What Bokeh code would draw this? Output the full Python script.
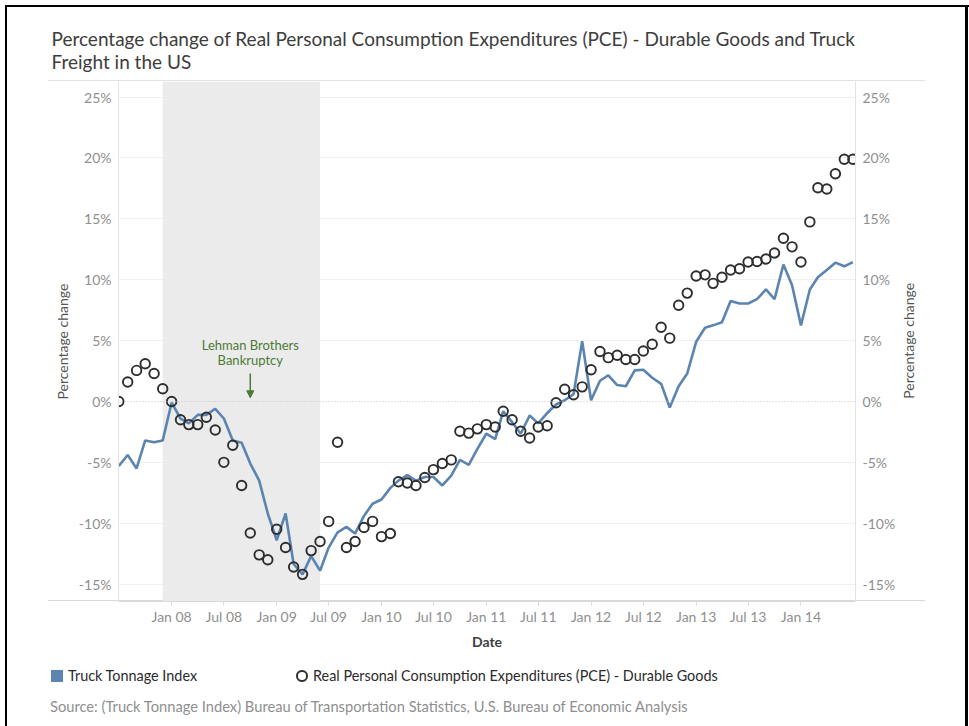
import math
import pandas as pd
from bokeh.plotting import figure
from bokeh.layouts import column
from bokeh.models import (Range1d, LinearAxis, FixedTicker, DatetimeTickFormatter,
                          PrintfTickFormatter, BoxAnnotation, Span, Label, Arrow,
                          NormalHead, ColumnDataSource, Title, Div)
from bokeh.embed import file_html
from bokeh.resources import INLINE

# ---------------- data ----------------
first_month = "2007-07-01"
last_month = "2014-07-01"

truck_tonnage = [
    -5.3, -4.4, -5.5, -3.2, -3.35, -3.2, -0.1, -1.4, -1.8, -1.1,
    -1.1, -0.6, -1.4, -3.2, -3.4, -5.1, -6.5, -9.2, -11.4, -9.2,
    -13.35, -14.2, -12.7, -13.9, -12.0, -10.75, -10.3, -10.85, -9.4, -8.4,
    -8.05, -7.1, -6.5, -6.05, -6.5, -6.2, -6.2, -6.9, -6.1, -4.8,
    -5.2, -3.9, -2.65, -3.1, -0.8, -1.7, -2.65, -1.15, -1.8, -0.95,
    -0.25, 0.1, 0.6, 4.95, 0.1, 1.7, 2.15, 1.35, 1.25, 2.55,
    2.6, 1.95, 1.45, -0.5, 1.25, 2.3, 4.9, 6.05, 6.25, 6.5,
    8.25, 8.05, 8.05, 8.4, 9.2, 8.4, 11.25, 9.55, 6.25, 9.2,
    10.2, 10.8, 11.4, 11.1, 11.45,
]

pce_durable = [
    0.0, 1.6, 2.55, 3.1, 2.3, 1.05, 0.0, -1.5, -1.9, -1.9,
    -1.3, -2.35, -5.0, -3.6, -6.9, -10.8, -12.6, -13.0, -10.5, -12.0,
    -13.6, -14.2, -12.25, -11.5, -9.85, -3.35, -12.0, -11.5, -10.35, -9.85,
    -11.1, -10.85, -6.6, -6.7, -6.9, -6.25, -5.6, -5.1, -4.8, -2.45,
    -2.6, -2.25, -1.9, -2.1, -0.8, -1.5, -2.45, -3.0, -2.1, -2.0,
    -0.1, 1.0, 0.55, 1.2, 2.6, 4.1, 3.6, 3.8, 3.45, 3.45,
    4.15, 4.7, 6.1, 5.2, 7.9, 8.9, 10.3, 10.4, 9.7, 10.2,
    10.8, 10.9, 11.45, 11.5, 11.7, 12.2, 13.4, 12.7, 11.45, 14.75,
    17.55, 17.45, 18.7, 19.9, 19.9,
]

x_ticks = ["2008-01-01", "2008-07-01", "2009-01-01", "2009-07-01", "2010-01-01",
           "2010-07-01", "2011-01-01", "2011-07-01", "2012-01-01", "2012-07-01",
           "2013-01-01", "2013-07-01", "2014-01-01"]
y_ticks = [-15, -10, -5, 0, 5, 10, 15, 20, 25]
recession = ["2007-12-01", "2009-06-01"]
lehman_month = "2008-10-01"

title_lines = ["Percentage change of Real Personal Consumption Expenditures (PCE) - Durable Goods and Truck",
               "Freight in the US"]
series_names = ["Truck Tonnage Index", "Real Personal Consumption Expenditures (PCE) - Durable Goods"]
axis_title = "Percentage change"
source_text = "Source: (Truck Tonnage Index) Bureau of Transportation Statistics, U.S. Bureau of Economic Analysis"

# ---------------- helpers ----------------
def ms(d):
    return pd.Timestamp(d).value / 1e6

months = pd.date_range(first_month, last_month, freq="MS")
src = ColumnDataSource(dict(date=months, truck=truck_tonnage, pce=pce_durable))

BLUE = "#5b84b1"
FONT = "Lato"
GREEN = "#4b7a33"
W = 969
MAIN_H = 655
FOOT_H = 71

# ---------------- main chart ----------------
x_start = pd.Timestamp(first_month) - pd.Timedelta(days=1)
x_end = x_start + pd.Timedelta(days=2567)

p = figure(width=W, height=MAIN_H, x_axis_type="datetime",
           x_range=Range1d(x_start, x_end), y_range=Range1d(-16.43, 26.28),
           output_backend="svg", toolbar_location=None,
           min_border_left=118, min_border_right=114,
           min_border_top=81, min_border_bottom=54)
p.outline_line_color = None
p.background_fill_color = None
p.border_fill_color = None

p.add_layout(BoxAnnotation(left=ms(recession[0]), right=ms(recession[1]),
                           fill_color="#ebebeb", fill_alpha=1.0, line_color=None,
                           level="underlay"))

p.xgrid.visible = False
p.ygrid.ticker = FixedTicker(ticks=[t for t in y_ticks if t != 0])
p.ygrid.grid_line_color = "#f0f0f0"
p.add_layout(Span(location=0, dimension="width", line_color="#c4c4c4",
                  line_dash="1 2", line_width=1))

xa = p.xaxis[0]
xa.ticker = FixedTicker(ticks=[ms(t) for t in x_ticks])
xa.formatter = DatetimeTickFormatter(months="%b %y", years="%b %y", days="%b %y")
xa.major_tick_out = 4
xa.major_tick_in = 0
xa.minor_tick_out = 0
xa.minor_tick_in = 0
xa.major_tick_line_color = "#d9d9d9"
xa.axis_line_color = "#d9d9d9"
xa.major_label_text_font = FONT
xa.major_label_text_font_size = "14px"
xa.major_label_text_color = "#8f8f8f"
xa.major_label_standoff = 2
xa.axis_label = "Date"
xa.axis_label_text_font = FONT
xa.axis_label_text_font_size = "14px"
xa.axis_label_text_font_style = "bold"
xa.axis_label_text_color = "#3d3d3d"
xa.axis_label_standoff = 5


def style_y(ax):
    ax.ticker = FixedTicker(ticks=y_ticks)
    ax.formatter = PrintfTickFormatter(format="%d%%")
    ax.major_tick_out = 0
    ax.major_tick_in = 0
    ax.minor_tick_out = 0
    ax.minor_tick_in = 0
    ax.axis_line_color = "#e3e3e3"
    ax.major_label_text_font = FONT
    ax.major_label_text_font_size = "14px"
    ax.major_label_text_color = "#8f8f8f"
    ax.major_label_standoff = 7
    ax.axis_label_text_font = FONT
    ax.axis_label_text_font_size = "14px"
    ax.axis_label_text_font_style = "normal"
    ax.axis_label_text_color = "#555555"


ya = p.yaxis[0]
style_y(ya)
ya.axis_label = axis_title
ya.axis_label_standoff = 5

ra = LinearAxis()
style_y(ra)
p.add_layout(ra, "right")

# right-hand axis title, reading bottom-to-top like the left one
y_mid = (p.y_range.start + p.y_range.end) / 2 - 4.7
rt = LinearAxis(ticker=FixedTicker(ticks=[y_mid]),
                major_label_overrides={y_mid: axis_title},
                major_label_orientation=math.pi / 2,
                major_tick_out=0, major_tick_in=0, minor_tick_out=0, minor_tick_in=0,
                axis_line_color=None, major_label_standoff=10,
                major_label_text_font=FONT, major_label_text_font_size="14px",
                major_label_text_color="#555555")
p.add_layout(rt, "right")

p.line("date", "truck", source=src, line_color=BLUE, line_width=2.6)
p.scatter("date", "pce", source=src, marker="circle", size=9.5,
          fill_alpha=0, line_color="#2e2e2e", line_width=1.9)

lx = ms(lehman_month)
p.add_layout(Label(x=lx, y=4.65, text="Lehman Brothers", text_align="center",
                   text_baseline="alphabetic", text_font=FONT, text_font_size="13px",
                   text_color=GREEN))
p.add_layout(Label(x=lx, y=3.4, text="Bankruptcy", text_align="center",
                   text_baseline="alphabetic", text_font=FONT, text_font_size="13px",
                   text_color=GREEN))
p.add_layout(Arrow(end=NormalHead(size=7, fill_color=GREEN, line_color=GREEN),
                   x_start=lx, y_start=2.3, x_end=lx, y_end=0.3,
                   line_color=GREEN, line_width=1.5))

# two-line title above the frame
p.add_layout(Title(text="\n".join(title_lines), align="left", offset=-67, standoff=17,
                   text_font=FONT, text_font_size="19px", text_font_style="normal",
                   text_color="#3d3d3d"), "above")

# ---------------- footer: legend + source ----------------
txt = "position:absolute; white-space:nowrap; font-family:Lato; line-height:18px;"
footer_html = (
    '<div style="position:relative; width:%dpx; height:%dpx;">' % (W, FOOT_H)
    + '<div style="position:absolute; left:51px; top:15px; width:12px; height:12px; '
      'box-sizing:border-box; background:%s;"></div>' % BLUE
    + '<div style="%s left:68px; top:12px; font-size:14.4px; color:#2b2b2b;">%s</div>'
      % (txt, series_names[0])
    + '<div style="position:absolute; left:296px; top:15px; width:11.5px; height:11.5px; '
      'box-sizing:border-box; border:2px solid #2e2e2e; border-radius:50%;"></div>'
    + '<div style="%s left:313px; top:12px; font-size:14.4px; color:#2b2b2b;">%s</div>'
      % (txt, series_names[1])
    + '<div style="%s left:50px; top:42px; font-size:14.7px; color:#8f8f8f;">%s</div>'
      % (txt, source_text)
    + '</div>'
)
footer = Div(text=footer_html, width=W, height=FOOT_H,
             styles={"margin": "0", "padding": "0"})

frame_lines = "linear-gradient(#e3e3e3, #e3e3e3), linear-gradient(#d9d9d9, #d9d9d9)"
layout = column(p, footer, spacing=0, width=W, height=MAIN_H + FOOT_H, styles={
    "box-shadow": ("inset 5px 5px 0 0 #ffffff, inset 7px 7px 0 0 #000000, "
                   "inset -1px 0 0 0 #ffffff, inset -4px 0 0 0 #000000"),
    "background-image": frame_lines,
    "background-repeat": "no-repeat",
    "background-position": "48px 80px, 48px 600px",
    "background-size": "877px 1px, 877px 1px",
})

open("out.html", "w").write(file_html(layout, INLINE))
